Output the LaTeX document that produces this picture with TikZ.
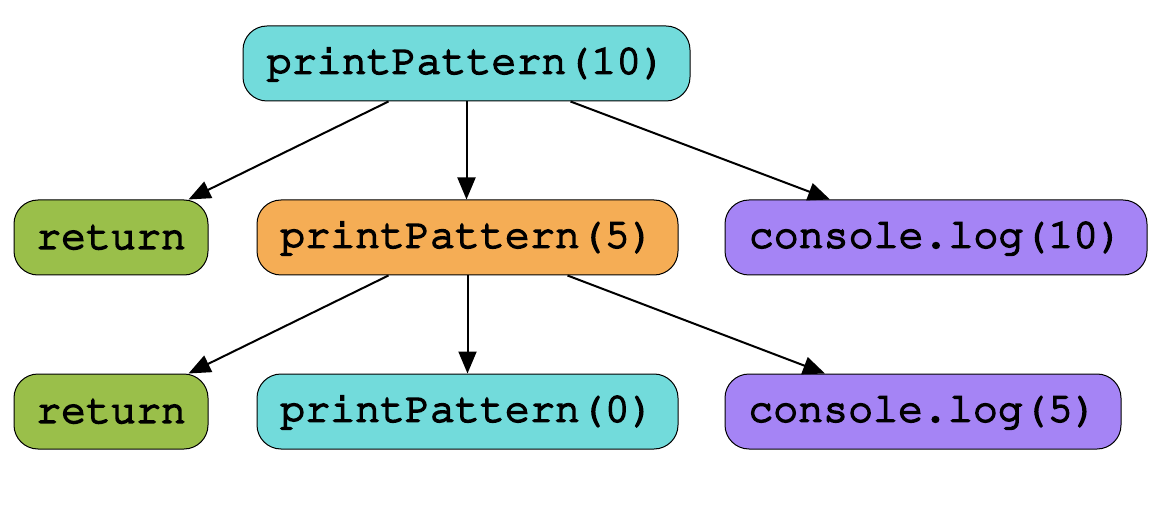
\documentclass[tikz,border=0pt]{standalone}
\usepackage[T1]{fontenc}
\usepackage{courier}
\usetikzlibrary{arrows.meta,calc}
\definecolor{cyanf}{HTML}{72DBDB}
\definecolor{greenf}{HTML}{9ABF4A}
\definecolor{orangef}{HTML}{F5AD55}
\definecolor{purplef}{HTML}{A584F5}
\newcommand\heavytext[1]{\special{pdf:literal direct 2 Tr 0.85 w 0 G}#1\special{pdf:literal direct 0 Tr}}
\tikzset{
  box/.style={draw=black, line width=0.5pt, rounded corners=12pt, minimum height=37.5pt,
    inner sep=0pt, font=\fontsize{20.8}{24}\selectfont\ttfamily},
  arr/.style={line width=1pt, -{Triangle[length=11pt,width=9pt]}},
}
\begin{document}
\begin{tikzpicture}[x=0.5pt,y=-0.5pt]
\useasboundingbox (0,0) rectangle (1172,518);
\node[box, fill=cyanf, minimum width=223.5pt] (p10) at (466.5,63.5) {\heavytext{printPattern(10)}};
\node[box, fill=greenf, minimum width=97pt] (r1) at (111,237.5) {\heavytext{return}};
\node[box, fill=orangef, minimum width=210.5pt] (p5) at (467.5,237.5) {\heavytext{printPattern(5)}};
\node[box, fill=purplef, minimum width=211pt] (c10) at (936,237.5) {\heavytext{console.log(10)}};
\node[box, fill=greenf, minimum width=97pt] (r2) at (111,411.5) {\heavytext{return}};
\node[box, fill=cyanf, minimum width=210.5pt] (p0) at (467.5,411.5) {\heavytext{printPattern(0)}};
\node[box, fill=purplef, minimum width=198pt] (c5) at (923,411.5) {\heavytext{console.log(5)}};
\draw[arr] ([xshift=-39pt]p10.south) -- ([xshift=-10pt]r1.north east);
\draw[arr] (p10.south) -- (p10.south |- p5.north);
\draw[arr] ([xshift=52pt]p10.south) -- ([xshift=-53pt]c10.north);
\draw[arr] ([xshift=-39.5pt]p5.south) -- ([xshift=-10pt]r2.north east);
\draw[arr] (p5.south) -- (p5.south |- p0.north);
\draw[arr] ([xshift=50pt]p5.south) -- ([xshift=-49pt]c5.north);
\end{tikzpicture}
\end{document}
